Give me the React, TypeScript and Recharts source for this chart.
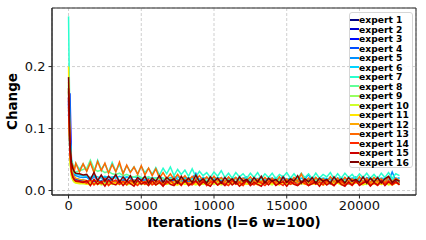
import React from 'react';
import { LineChart, Line, XAxis, YAxis, CartesianGrid, Legend, ReferenceArea } from 'recharts';

const iterations = [0, 100, 200, 300, 400, 500, 750, 1000, 1250, 1500, 1750, 2000, 2250, 2500, 2750, 3000, 3250, 3500, 3750, 4000, 4250, 4500, 4750, 5000, 5250, 5500, 5750, 6000, 6250, 6500, 6750, 7000, 7250, 7500, 7750, 8000, 8250, 8500, 8750, 9000, 9250, 9500, 9750, 10000, 10250, 10500, 10750, 11000, 11250, 11500, 11750, 12000, 12250, 12500, 12750, 13000, 13250, 13500, 13750, 14000, 14250, 14500, 14750, 15000, 15250, 15500, 15750, 16000, 16250, 16500, 16750, 17000, 17250, 17500, 17750, 18000, 18250, 18500, 18750, 19000, 19250, 19500, 19750, 20000, 20250, 20500, 20750, 21000, 21250, 21500, 21750, 22000, 22250, 22500, 22750];

const expert1 = [0.150, 0.060, 0.035, 0.025, 0.020, 0.018, 0.016, 0.015,
  0.014, 0.016, 0.013, 0.015, 0.014, 0.012, 0.016, 0.015, 0.013, 0.014,
  0.015, 0.013, 0.016, 0.014, 0.012, 0.015, 0.014, 0.013, 0.016, 0.014,
  0.013, 0.015, 0.012, 0.014, 0.016, 0.013, 0.014, 0.015, 0.012, 0.014,
  0.016, 0.013, 0.014, 0.012, 0.015, 0.014, 0.013, 0.016, 0.012, 0.014,
  0.015, 0.013, 0.014, 0.012, 0.016, 0.013, 0.014, 0.015, 0.012, 0.013,
  0.016, 0.014, 0.012, 0.015, 0.013, 0.014, 0.016, 0.012, 0.014, 0.013,
  0.015, 0.012, 0.014, 0.016, 0.013, 0.014, 0.012, 0.015, 0.013, 0.014,
  0.016, 0.012, 0.013, 0.015, 0.014, 0.012, 0.016, 0.013, 0.014, 0.015,
  0.012, 0.014, 0.013, 0.016, 0.012, 0.014, 0.013];

const expert2 = [0.140, 0.055, 0.030, 0.022, 0.018, 0.016, 0.015, 0.014,
  0.012, 0.014, 0.011, 0.013, 0.015, 0.012, 0.013, 0.011, 0.014, 0.012,
  0.013, 0.015, 0.011, 0.012, 0.014, 0.013, 0.011, 0.012, 0.015, 0.013,
  0.012, 0.011, 0.014, 0.013, 0.012, 0.015, 0.011, 0.013, 0.012, 0.014,
  0.011, 0.013, 0.015, 0.012, 0.011, 0.014, 0.012, 0.013, 0.011, 0.015,
  0.012, 0.014, 0.011, 0.013, 0.012, 0.011, 0.014, 0.013, 0.015, 0.012,
  0.011, 0.013, 0.014, 0.012, 0.011, 0.015, 0.013, 0.012, 0.014, 0.011,
  0.013, 0.012, 0.015, 0.011, 0.014, 0.012, 0.013, 0.011, 0.014, 0.012,
  0.013, 0.015, 0.011, 0.012, 0.014, 0.013, 0.011, 0.012, 0.014, 0.013,
  0.011, 0.015, 0.012, 0.013, 0.011, 0.014, 0.012];

const expert3 = [0.120, 0.157, 0.045, 0.028, 0.022, 0.019, 0.017, 0.016,
  0.015, 0.013, 0.016, 0.014, 0.012, 0.017, 0.014, 0.013, 0.015, 0.016,
  0.013, 0.014, 0.012, 0.016, 0.015, 0.013, 0.017, 0.014, 0.012, 0.015,
  0.014, 0.016, 0.013, 0.012, 0.015, 0.014, 0.013, 0.016, 0.014, 0.012,
  0.015, 0.017, 0.013, 0.014, 0.012, 0.016, 0.013, 0.015, 0.014, 0.012,
  0.016, 0.013, 0.014, 0.015, 0.012, 0.014, 0.016, 0.013, 0.012, 0.015,
  0.014, 0.013, 0.016, 0.012, 0.015, 0.014, 0.013, 0.017, 0.012, 0.014,
  0.015, 0.013, 0.012, 0.016, 0.014, 0.013, 0.015, 0.012, 0.016, 0.014,
  0.013, 0.015, 0.012, 0.014, 0.016, 0.013, 0.015, 0.012, 0.014, 0.013,
  0.016, 0.012, 0.015, 0.014, 0.013, 0.016, 0.014];

const expert4 = [0.145, 0.070, 0.038, 0.027, 0.022, 0.019, 0.018, 0.017,
  0.016, 0.014, 0.017, 0.015, 0.013, 0.016, 0.018, 0.014, 0.015, 0.013,
  0.016, 0.015, 0.014, 0.017, 0.013, 0.015, 0.016, 0.014, 0.018, 0.015,
  0.013, 0.016, 0.014, 0.015, 0.017, 0.013, 0.015, 0.014, 0.016, 0.013,
  0.015, 0.018, 0.014, 0.016, 0.013, 0.015, 0.014, 0.017, 0.013, 0.016,
  0.015, 0.014, 0.013, 0.016, 0.015, 0.017, 0.014, 0.013, 0.016, 0.015,
  0.014, 0.016, 0.013, 0.015, 0.017, 0.014, 0.013, 0.016, 0.015, 0.014,
  0.013, 0.017, 0.015, 0.014, 0.016, 0.013, 0.015, 0.014, 0.017, 0.013,
  0.016, 0.014, 0.015, 0.013, 0.017, 0.015, 0.014, 0.016, 0.013, 0.015,
  0.017, 0.014, 0.016, 0.013, 0.015, 0.018, 0.015];

const expert5 = [0.130, 0.090, 0.045, 0.032, 0.027, 0.024, 0.022, 0.021,
  0.022, 0.016, 0.023, 0.017, 0.015, 0.022, 0.016, 0.021, 0.023, 0.015,
  0.017, 0.022, 0.020, 0.015, 0.016, 0.021, 0.015, 0.022, 0.017, 0.020,
  0.015, 0.016, 0.021, 0.014, 0.022, 0.018, 0.014, 0.021, 0.015, 0.020,
  0.028, 0.015, 0.021, 0.014, 0.019, 0.022, 0.015, 0.020, 0.014, 0.021,
  0.015, 0.020, 0.014, 0.019, 0.022, 0.015, 0.020, 0.014, 0.021, 0.015,
  0.019, 0.014, 0.021, 0.015, 0.023, 0.015, 0.020, 0.014, 0.021, 0.015,
  0.019, 0.026, 0.015, 0.021, 0.014, 0.019, 0.015, 0.022, 0.014, 0.020,
  0.015, 0.021, 0.014, 0.019, 0.022, 0.015, 0.014, 0.021, 0.019, 0.015,
  0.021, 0.014, 0.020, 0.015, 0.030, 0.016, 0.021];

const expert6 = [0.160, 0.080, 0.045, 0.035, 0.030, 0.027, 0.025, 0.024,
  0.023, 0.021, 0.024, 0.022, 0.020, 0.023, 0.021, 0.022, 0.020, 0.023,
  0.021, 0.022, 0.020, 0.022, 0.021, 0.019, 0.022, 0.020, 0.021, 0.019,
  0.022, 0.020, 0.019, 0.021, 0.020, 0.022, 0.019, 0.020, 0.021, 0.019,
  0.020, 0.018, 0.021, 0.019, 0.020, 0.018, 0.021, 0.019, 0.020, 0.018,
  0.019, 0.021, 0.018, 0.020, 0.019, 0.018, 0.020, 0.019, 0.021, 0.018,
  0.019, 0.020, 0.018, 0.019, 0.021, 0.018, 0.020, 0.019, 0.018, 0.020,
  0.019, 0.018, 0.021, 0.019, 0.018, 0.020, 0.019, 0.018, 0.020, 0.019,
  0.021, 0.018, 0.019, 0.020, 0.018, 0.019, 0.021, 0.018, 0.020, 0.019,
  0.018, 0.020, 0.019, 0.021, 0.018, 0.020, 0.019];

const expert7 = [0.281, 0.085, 0.050, 0.042, 0.036, 0.044, 0.034, 0.043,
  0.032, 0.046, 0.030, 0.049, 0.034, 0.043, 0.029, 0.045, 0.031, 0.042,
  0.028, 0.040, 0.030, 0.038, 0.027, 0.039, 0.029, 0.036, 0.026, 0.037,
  0.025, 0.036, 0.027, 0.038, 0.024, 0.034, 0.026, 0.033, 0.023, 0.035,
  0.022, 0.031, 0.024, 0.029, 0.021, 0.030, 0.023, 0.032, 0.021, 0.028,
  0.020, 0.029, 0.022, 0.027, 0.020, 0.028, 0.021, 0.029, 0.019, 0.027,
  0.021, 0.028, 0.019, 0.026, 0.022, 0.029, 0.020, 0.027, 0.019, 0.028,
  0.021, 0.027, 0.019, 0.028, 0.020, 0.026, 0.022, 0.029, 0.019, 0.027,
  0.020, 0.028, 0.021, 0.026, 0.019, 0.027, 0.021, 0.028, 0.020, 0.026,
  0.019, 0.028, 0.021, 0.029, 0.020, 0.027, 0.024];

const expert8 = [0.170, 0.060, 0.038, 0.030, 0.028, 0.030, 0.032, 0.034,
  0.036, 0.049, 0.035, 0.031, 0.033, 0.029, 0.031, 0.027, 0.026, 0.028,
  0.024, 0.026, 0.023, 0.022, 0.024, 0.021, 0.020, 0.022, 0.019, 0.020,
  0.018, 0.020, 0.017, 0.019, 0.018, 0.016, 0.018, 0.017, 0.019, 0.016,
  0.017, 0.015, 0.018, 0.016, 0.017, 0.015, 0.016, 0.018, 0.015, 0.017,
  0.016, 0.015, 0.017, 0.014, 0.016, 0.015, 0.017, 0.014, 0.016, 0.015,
  0.014, 0.016, 0.015, 0.017, 0.014, 0.016, 0.015, 0.014, 0.017, 0.015,
  0.016, 0.014, 0.015, 0.017, 0.014, 0.016, 0.015, 0.014, 0.016, 0.015,
  0.014, 0.016, 0.015, 0.017, 0.014, 0.015, 0.016, 0.014, 0.015, 0.017,
  0.015, 0.014, 0.016, 0.015, 0.017, 0.014, 0.016];

const expert9 = [0.165, 0.050, 0.025, 0.018, 0.015, 0.013, 0.012, 0.012,
  0.011, 0.013, 0.012, 0.010, 0.014, 0.012, 0.011, 0.013, 0.012, 0.010,
  0.013, 0.012, 0.011, 0.014, 0.012, 0.010, 0.013, 0.011, 0.012, 0.014,
  0.011, 0.013, 0.010, 0.012, 0.013, 0.011, 0.012, 0.014, 0.010, 0.012,
  0.013, 0.011, 0.012, 0.010, 0.013, 0.012, 0.014, 0.011, 0.012, 0.010,
  0.013, 0.012, 0.011, 0.014, 0.012, 0.010, 0.013, 0.012, 0.011, 0.013,
  0.012, 0.010, 0.014, 0.011, 0.012, 0.013, 0.011, 0.012, 0.010, 0.013,
  0.012, 0.014, 0.011, 0.012, 0.010, 0.013, 0.012, 0.011, 0.014, 0.012,
  0.010, 0.013, 0.011, 0.012, 0.014, 0.011, 0.012, 0.010, 0.013, 0.012,
  0.011, 0.013, 0.012, 0.010, 0.014, 0.012, 0.011];

const expert10 = [0.175, 0.045, 0.022, 0.016, 0.013, 0.012, 0.011, 0.011,
  0.010, 0.012, 0.011, 0.013, 0.009, 0.011, 0.012, 0.010, 0.013, 0.011,
  0.012, 0.009, 0.011, 0.013, 0.010, 0.012, 0.011, 0.009, 0.012, 0.010,
  0.013, 0.011, 0.010, 0.012, 0.009, 0.011, 0.013, 0.010, 0.012, 0.011,
  0.009, 0.012, 0.010, 0.013, 0.011, 0.010, 0.012, 0.009, 0.011, 0.013,
  0.010, 0.012, 0.011, 0.009, 0.012, 0.010, 0.013, 0.011, 0.010, 0.012,
  0.011, 0.009, 0.013, 0.010, 0.012, 0.011, 0.010, 0.012, 0.009, 0.011,
  0.013, 0.010, 0.011, 0.012, 0.009, 0.011, 0.010, 0.013, 0.011, 0.012,
  0.009, 0.011, 0.012, 0.010, 0.013, 0.011, 0.009, 0.012, 0.010, 0.011,
  0.013, 0.010, 0.012, 0.009, 0.011, 0.012, 0.010];

const expert11 = [0.200, 0.050, 0.025, 0.018, 0.015, 0.013, 0.012, 0.012,
  0.011, 0.009, 0.012, 0.010, 0.013, 0.011, 0.009, 0.012, 0.011, 0.010,
  0.012, 0.011, 0.013, 0.009, 0.011, 0.012, 0.010, 0.011, 0.013, 0.009,
  0.012, 0.010, 0.011, 0.013, 0.010, 0.009, 0.012, 0.011, 0.010, 0.013,
  0.011, 0.009, 0.012, 0.010, 0.011, 0.013, 0.009, 0.011, 0.012, 0.010,
  0.013, 0.011, 0.009, 0.012, 0.010, 0.011, 0.012, 0.009, 0.013, 0.011,
  0.010, 0.012, 0.011, 0.009, 0.013, 0.010, 0.012, 0.011, 0.009, 0.012,
  0.010, 0.013, 0.011, 0.010, 0.012, 0.009, 0.011, 0.013, 0.010, 0.012,
  0.011, 0.009, 0.012, 0.010, 0.013, 0.011, 0.010, 0.012, 0.009, 0.011,
  0.012, 0.010, 0.013, 0.011, 0.009, 0.012, 0.011];

const expert12 = [0.160, 0.065, 0.035, 0.026, 0.022, 0.020, 0.018, 0.017,
  0.016, 0.014, 0.017, 0.015, 0.013, 0.016, 0.014, 0.015, 0.013, 0.016,
  0.014, 0.015, 0.013, 0.016, 0.014, 0.012, 0.015, 0.014, 0.013, 0.016,
  0.014, 0.012, 0.015, 0.013, 0.014, 0.016, 0.013, 0.014, 0.012, 0.015,
  0.013, 0.014, 0.016, 0.012, 0.014, 0.013, 0.015, 0.012, 0.014, 0.013,
  0.015, 0.012, 0.014, 0.013, 0.016, 0.012, 0.014, 0.013, 0.015, 0.012,
  0.014, 0.013, 0.012, 0.015, 0.013, 0.014, 0.012, 0.016, 0.013, 0.014,
  0.012, 0.015, 0.013, 0.014, 0.012, 0.015, 0.013, 0.012, 0.014, 0.016,
  0.013, 0.012, 0.014, 0.013, 0.015, 0.012, 0.014, 0.013, 0.012, 0.015,
  0.013, 0.014, 0.012, 0.015, 0.013, 0.012, 0.014];

const expert13 = [0.135, 0.070, 0.045, 0.040, 0.032, 0.044, 0.030, 0.043,
  0.031, 0.045, 0.029, 0.047, 0.032, 0.044, 0.028, 0.042, 0.030, 0.046,
  0.027, 0.041, 0.029, 0.038, 0.026, 0.040, 0.025, 0.036, 0.024, 0.035,
  0.020, 0.029, 0.019, 0.027, 0.018, 0.026, 0.017, 0.024, 0.016, 0.023,
  0.017, 0.024, 0.016, 0.022, 0.015, 0.023, 0.016, 0.021, 0.014, 0.022,
  0.015, 0.021, 0.013, 0.020, 0.016, 0.022, 0.014, 0.019, 0.013, 0.021,
  0.015, 0.020, 0.013, 0.022, 0.014, 0.019, 0.013, 0.021, 0.015, 0.027,
  0.014, 0.020, 0.013, 0.021, 0.015, 0.019, 0.013, 0.022, 0.014, 0.020,
  0.013, 0.021, 0.015, 0.019, 0.013, 0.022, 0.014, 0.020, 0.013, 0.021,
  0.015, 0.019, 0.013, 0.022, 0.014, 0.020, 0.016];

const expert14 = [0.150, 0.060, 0.030, 0.022, 0.018, 0.016, 0.015, 0.014,
  0.012, 0.018, 0.009, 0.016, 0.011, 0.019, 0.008, 0.014, 0.017, 0.010,
  0.015, 0.009, 0.017, 0.012, 0.008, 0.016, 0.010, 0.018, 0.009, 0.013,
  0.016, 0.008, 0.012, 0.017, 0.010, 0.014, 0.008, 0.016, 0.011, 0.009,
  0.015, 0.010, 0.017, 0.008, 0.013, 0.016, 0.009, 0.014, 0.011, 0.008,
  0.016, 0.010, 0.013, 0.008, 0.017, 0.011, 0.009, 0.015, 0.012, 0.008,
  0.014, 0.017, 0.009, 0.012, 0.008, 0.016, 0.010, 0.013, 0.009, 0.015,
  0.011, 0.008, 0.016, 0.010, 0.014, 0.009, 0.017, 0.011, 0.008, 0.014,
  0.016, 0.009, 0.012, 0.008, 0.015, 0.010, 0.013, 0.017, 0.009, 0.012,
  0.008, 0.015, 0.011, 0.016, 0.009, 0.013, 0.010];

const expert15 = [0.165, 0.065, 0.030, 0.021, 0.017, 0.015, 0.014, 0.013,
  0.016, 0.008, 0.018, 0.010, 0.015, 0.007, 0.017, 0.011, 0.009, 0.016,
  0.008, 0.015, 0.011, 0.007, 0.017, 0.010, 0.014, 0.008, 0.016, 0.009,
  0.013, 0.007, 0.016, 0.010, 0.008, 0.015, 0.009, 0.017, 0.008, 0.012,
  0.016, 0.008, 0.014, 0.010, 0.007, 0.015, 0.009, 0.013, 0.008, 0.016,
  0.009, 0.014, 0.007, 0.012, 0.016, 0.008, 0.013, 0.010, 0.007, 0.015,
  0.009, 0.016, 0.008, 0.012, 0.014, 0.007, 0.015, 0.010, 0.008, 0.013,
  0.016, 0.008, 0.011, 0.014, 0.007, 0.015, 0.009, 0.013, 0.008, 0.016,
  0.010, 0.007, 0.014, 0.009, 0.016, 0.008, 0.012, 0.015, 0.007, 0.013,
  0.009, 0.016, 0.008, 0.014, 0.010, 0.015, 0.009];

const expert16 = [0.183, 0.076, 0.045, 0.035, 0.030, 0.028, 0.027, 0.025,
  0.026, 0.018, 0.029, 0.016, 0.025, 0.015, 0.023, 0.017, 0.026, 0.014,
  0.022, 0.015, 0.024, 0.013, 0.021, 0.016, 0.023, 0.012, 0.020, 0.015,
  0.024, 0.013, 0.021, 0.016, 0.019, 0.012, 0.023, 0.014, 0.020, 0.013,
  0.025, 0.014, 0.019, 0.012, 0.022, 0.015, 0.020, 0.012, 0.021, 0.014,
  0.019, 0.012, 0.022, 0.015, 0.018, 0.012, 0.021, 0.014, 0.023, 0.012,
  0.020, 0.015, 0.018, 0.012, 0.022, 0.013, 0.019, 0.015, 0.024, 0.012,
  0.019, 0.014, 0.021, 0.012, 0.020, 0.015, 0.018, 0.012, 0.022, 0.014,
  0.019, 0.012, 0.021, 0.015, 0.018, 0.013, 0.022, 0.012, 0.020, 0.014,
  0.021, 0.012, 0.019, 0.023, 0.013, 0.018, 0.015];

const seriesNames = ['expert 1', 'expert 2', 'expert 3', 'expert 4', 'expert 5', 'expert 6', 'expert 7', 'expert 8',
  'expert 9', 'expert 10', 'expert 11', 'expert 12', 'expert 13', 'expert 14', 'expert 15', 'expert 16'];
const seriesColors = ['#000080', '#0000cd', '#0008ff', '#004dff', '#0090ff', '#00d4ff', '#29ffce', '#60ff97',
  '#97ff60', '#ceff29', '#ffe600', '#ffa700', '#ff6800', '#ff2900', '#cd0000', '#800000'];
const seriesValues = [expert1, expert2, expert3, expert4, expert5, expert6, expert7, expert8,
  expert9, expert10, expert11, expert12, expert13, expert14, expert15, expert16];

const xTicks = [0, 5000, 10000, 15000, 20000];
const yTicks = [0, 0.1, 0.2];
const xDomain = [-1137.5, 23887.5];
const yDomain = [-0.0072, 0.2945];
const xLabel = 'Iterations (l=6 w=100)';
const yLabel = 'Change';

const data = iterations.map((it, i) => {
  const row: Record<string, number> = { iter: it };
  seriesValues.forEach((s, j) => {
    row['e' + (j + 1)] = s[i];
  });
  return row;
});

const FONT = '"DejaVu Sans", Verdana, sans-serif';
const AXIS = '#262626';

const renderLegend = (props: any) => {
  const items = [...(props.payload || [])].sort(
    (a: any, b: any) => seriesNames.indexOf(a.value) - seriesNames.indexOf(b.value)
  );
  return (
    <div
      style={{
        boxSizing: 'border-box',
        width: 64,
        height: 156,
        background: 'rgba(255,255,255,0.85)',
        border: '1px solid #d6d6d6',
        borderRadius: 3,
        paddingTop: 2,
        paddingLeft: 0,
      }}
    >
      {items.map((it: any) => (
        <div key={it.value} style={{ display: 'flex', alignItems: 'center', height: 9.5 }}>
          <span style={{ display: 'inline-block', width: 9, height: 2, background: it.color, flex: 'none' }} />
          <span
            style={{
              fontFamily: FONT,
              fontWeight: 'bold',
              fontSize: 9.2,
              lineHeight: '9.5px',
              whiteSpace: 'nowrap',
              color: '#000',
            }}
          >
            {it.value}
          </span>
        </div>
      ))}
    </div>
  );
};

export default function App() {
  return (
    <div style={{ position: 'absolute', left: 0, top: 0, width: 426, height: 240, background: '#fff' }}>
      <LineChart width={426} height={240} data={data} margin={{ top: 8, right: 10, bottom: 0, left: 0 }}>
        <CartesianGrid stroke="#cfcfcf" strokeDasharray="3 2" horizontal vertical />
        <XAxis
          dataKey="iter"
          type="number"
          domain={xDomain}
          allowDataOverflow
          ticks={xTicks}
          height={45}
          tickSize={3.5}
          tickMargin={2}
          stroke={AXIS}
          tick={{ fontSize: 13, fontFamily: FONT, fill: '#111' }}
          label={{
            content: (p: any) => {
              const vb = p.viewBox || {};
              return (
                <text
                  x={vb.x + vb.width / 2}
                  y={vb.y + 31.5}
                  textAnchor="middle"
                  fontFamily={FONT}
                  fontWeight="bold"
                  fontSize={13.5}
                  fill="#000"
                >
                  {xLabel}
                </text>
              );
            },
          }}
        />
        <YAxis
          type="number"
          domain={yDomain}
          allowDataOverflow
          ticks={yTicks}
          width={52}
          tickSize={3.5}
          tickMargin={3}
          stroke={AXIS}
          tickFormatter={(v: number) => v.toFixed(1)}
          tick={{ fontSize: 13, fontFamily: FONT, fill: '#111' }}
          label={{
            content: (p: any) => {
              const vb = p.viewBox || {};
              const cx = vb.x + 16.5;
              const cy = vb.y + vb.height / 2;
              return (
                <text
                  x={cx}
                  y={cy}
                  transform={`rotate(-90, ${cx}, ${cy})`}
                  textAnchor="middle"
                  fontFamily={FONT}
                  fontWeight="bold"
                  fontSize={13.5}
                  fill="#000"
                >
                  {yLabel}
                </text>
              );
            },
          }}
        />
        <Legend
          layout="vertical"
          align="center"
          verticalAlign="middle"
          content={renderLegend}
          wrapperStyle={{ position: 'absolute', left: 349, top: 12, width: 64, height: 156 }}
        />
        {seriesNames.map((name, j) => (
          <Line
            key={name}
            dataKey={'e' + (j + 1)}
            name={name}
            stroke={seriesColors[j]}
            strokeWidth={1.5}
            dot={false}
            type="linear"
            isAnimationActive={false}
          />
        ))}
        <ReferenceArea
          x1={xDomain[0]}
          x2={xDomain[1]}
          y1={yDomain[0]}
          y2={yDomain[1]}
          fill="none"
          fillOpacity={0}
          stroke={AXIS}
          strokeWidth={1}
          ifOverflow="visible"
        />
      </LineChart>
    </div>
  );
}
